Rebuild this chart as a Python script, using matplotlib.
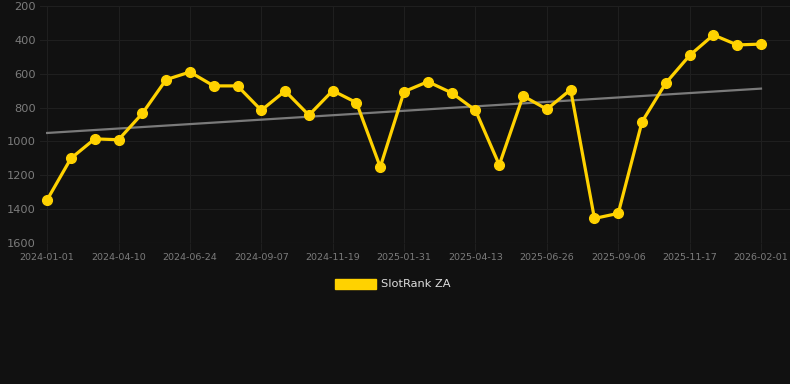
import numpy as np
import matplotlib
matplotlib.use('Agg')
import matplotlib.pyplot as plt
from matplotlib.patches import Patch

# rank values (lower = better, axis is inverted)
rank = [1345, 1100, 985, 990, 835, 635, 590, 672, 672, 816, 702, 845, 700, 771, 1151,
        706, 647, 713, 816, 1139, 731, 810, 694, 1455, 1425, 884, 655, 492, 371, 430, 425]
tick_labels = ['2024-01-01', '2024-04-10', '2024-06-24', '2024-09-07', '2024-11-19',
               '2025-01-31', '2025-04-13', '2025-06-26', '2025-09-06', '2025-11-17', '2026-02-01']
trend_ends = [950, 688]
series_name = 'SlotRank ZA'

bg = '#111111'
gold = '#FFD200'

fig = plt.figure(figsize=(7.9, 3.84), dpi=100, facecolor=bg)
ax = fig.add_axes([40/790, 1 - 243/384, 750/790, 237/384])
ax.set_facecolor(bg)

x = np.arange(len(rank))
ax.plot([x[0], x[-1]], trend_ends, color='#7a7a7a', lw=1.6, zorder=2)
ax.plot(x, rank, color=gold, lw=2.3, marker='o', ms=7, zorder=3)

ax.set_ylim(1600, 200)
ax.set_yticks(range(200, 1601, 200))
ax.set_xlim(-0.3, 30 + 29/23.8)
ax.set_xticks(x[::3])
ax.set_xticklabels(tick_labels)

ax.grid(True, color='#1f1f1f', lw=0.8, zorder=0)
for s in ax.spines.values():
    s.set_visible(False)
ax.axhline(1600, color='#2a2a2a', lw=0.8, zorder=1)
ax.tick_params(axis='y', length=0, pad=3, labelsize=8.2, labelcolor='#7c7c7c')
ax.tick_params(axis='x', length=6, color='#1f1f1f', pad=1, labelsize=6.8, labelcolor='#7c7c7c')

fig.legend(handles=[Patch(facecolor=gold, edgecolor=gold)], labels=[series_name],
           loc='center', bbox_to_anchor=(0.497, 1 - 284/384), frameon=False,
           handlelength=3.6, handleheight=1.0, handletextpad=0.5,
           fontsize=8.2, labelcolor='#dddddd')

fig.savefig('out.png', dpi=100, facecolor=bg)
